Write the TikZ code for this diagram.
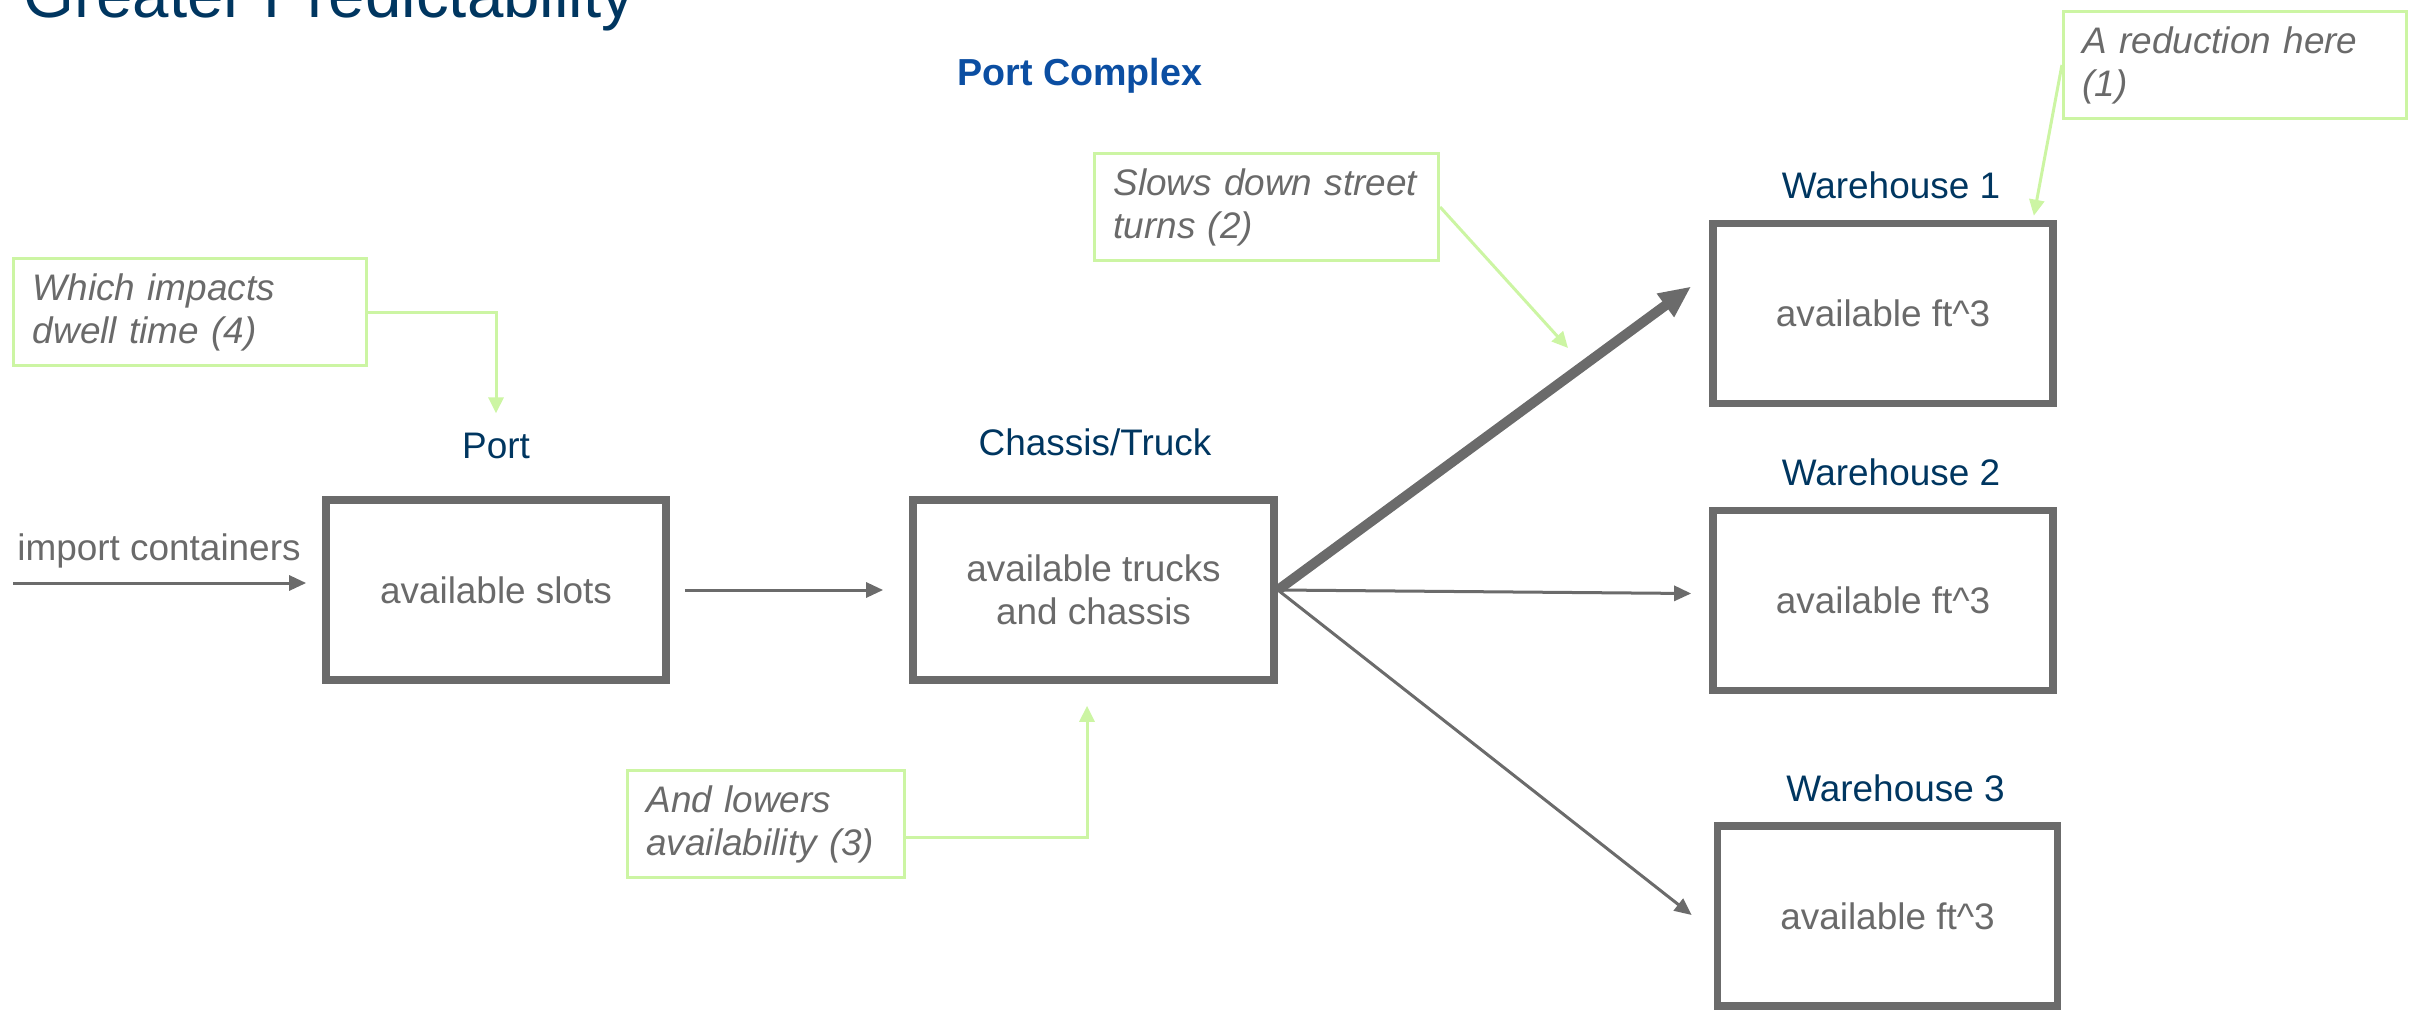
\documentclass[tikz,border=0pt]{standalone}
\usepackage{fontspec}
\setmainfont{Liberation Sans}
\usetikzlibrary{arrows.meta}

\definecolor{boxgray}{RGB}{107,107,107}
\definecolor{txtgray}{RGB}{106,106,106}
\definecolor{navy}{RGB}{0,54,96}
\definecolor{pcblue}{RGB}{11,78,162}
\definecolor{notegreen}{RGB}{204,245,163}

\begin{document}
\begin{tikzpicture}[x=0.01cm, y=-0.01cm,%
        stock/.style={draw=boxgray, line width=0.075cm, text=txtgray,%
                        minimum width=3.40cm, minimum height=1.80cm,%
                        align=center, inner sep=0pt,%
                        font=\fontsize{10.5}{12.2}\selectfont},
        lbl/.style={text=navy, anchor=base, inner sep=0pt,%
                        font=\fontsize{10.5}{12.2}\selectfont},
        note/.style={draw=notegreen, line width=0.03cm, text=txtgray,%
                        align=left, inner xsep=0.19cm, inner ysep=0pt,%
                        minimum height=1.07cm,%
                        font=\fontsize{10.5}{12.2}\itshape},
        flow/.style={draw=boxgray, line width=0.03cm,%
                        -{Triangle[length=0.17cm, width=0.15cm]}},
        hint/.style={draw=notegreen, line width=0.03cm,%
                        -{Triangle[length=0.16cm, width=0.15cm]}}]
    \useasboundingbox (0,0) rectangle (2415,1009);

    \node[anchor=base west, text=navy, inner sep=0pt,%
          font=\fontsize{18.6}{22}\selectfont] (title) at (23,18) {Greater Predictability};
    \node[anchor=base, text=pcblue, inner sep=0pt,%
          font=\fontsize{10.7}{12.5}\bfseries] (complex) at (1080,85) {Port Complex};

    \node[stock] (port) at (496,590) {available slots};
    \node[stock, minimum width=3.61cm] (chassis) at (1093.5,590) {available trucks\\and chassis};
    \foreach \i/\x/\y in {1/1883/313.5, 2/1883/600.5, 3/1887.5/916} {
        \node[stock] (wh\i) at (\x,\y) {available ft\textasciicircum3};
        \node[lbl] (whlbl\i) at (\x+8,\y-115) {Warehouse \i};
    }
    \node[lbl] (portlbl) at (496,458) {Port};
    \node[lbl] (chassislbl) at (1095,455) {Chassis/Truck};
    \node[lbl, text=txtgray] (importlbl) at (159,560) {import containers};
    \coordinate (import) at (13,583);

    \node[note, text width=3.05cm] (note1) at (2235,65) {A reduction here\\(1)};
    \node[note, text width=3.06cm] (note2) at (1266.5,207) {Slows down street\\turns (2)};
    \node[note, text width=2.39cm] (note3) at (766,824) {And lowers\\availability (3)};
    \node[note, text width=3.14cm] (note4) at (190,312) {Which impacts\\dwell time (4)};
    \coordinate (turns) at (1568,348);

    \draw[flow, shorten >=0.16cm] (import) -- (import -| port.west);
    \draw[flow, shorten <=0.15cm, shorten >=0.26cm] (port) -- (chassis);
    \draw[flow, line width=0.1cm, -{Triangle[length=0.32cm, width=0.27cm]}]
        (chassis.east) -- ([shift={(-18,-27)}]wh1.west);
    \draw[flow] (chassis.east) -- ([shift={(-18,-7)}]wh2.west);
    \draw[flow] (chassis.east) -- ([shift={(-22,-1)}]wh3.west);

    \draw[hint] (note1.west) -- ([shift={(-23,-4)}]wh1.north east);
    \draw[hint] (note2.east) -- (turns);
    \draw[hint, shorten >=0.22cm] ([shift={(0,13)}]note3.east) -| ([xshift=-0.065cm]chassis.south);
    \draw[hint, shorten >=0.185cm] (note4.east) -| (portlbl.north);
\end{tikzpicture}
\end{document}
